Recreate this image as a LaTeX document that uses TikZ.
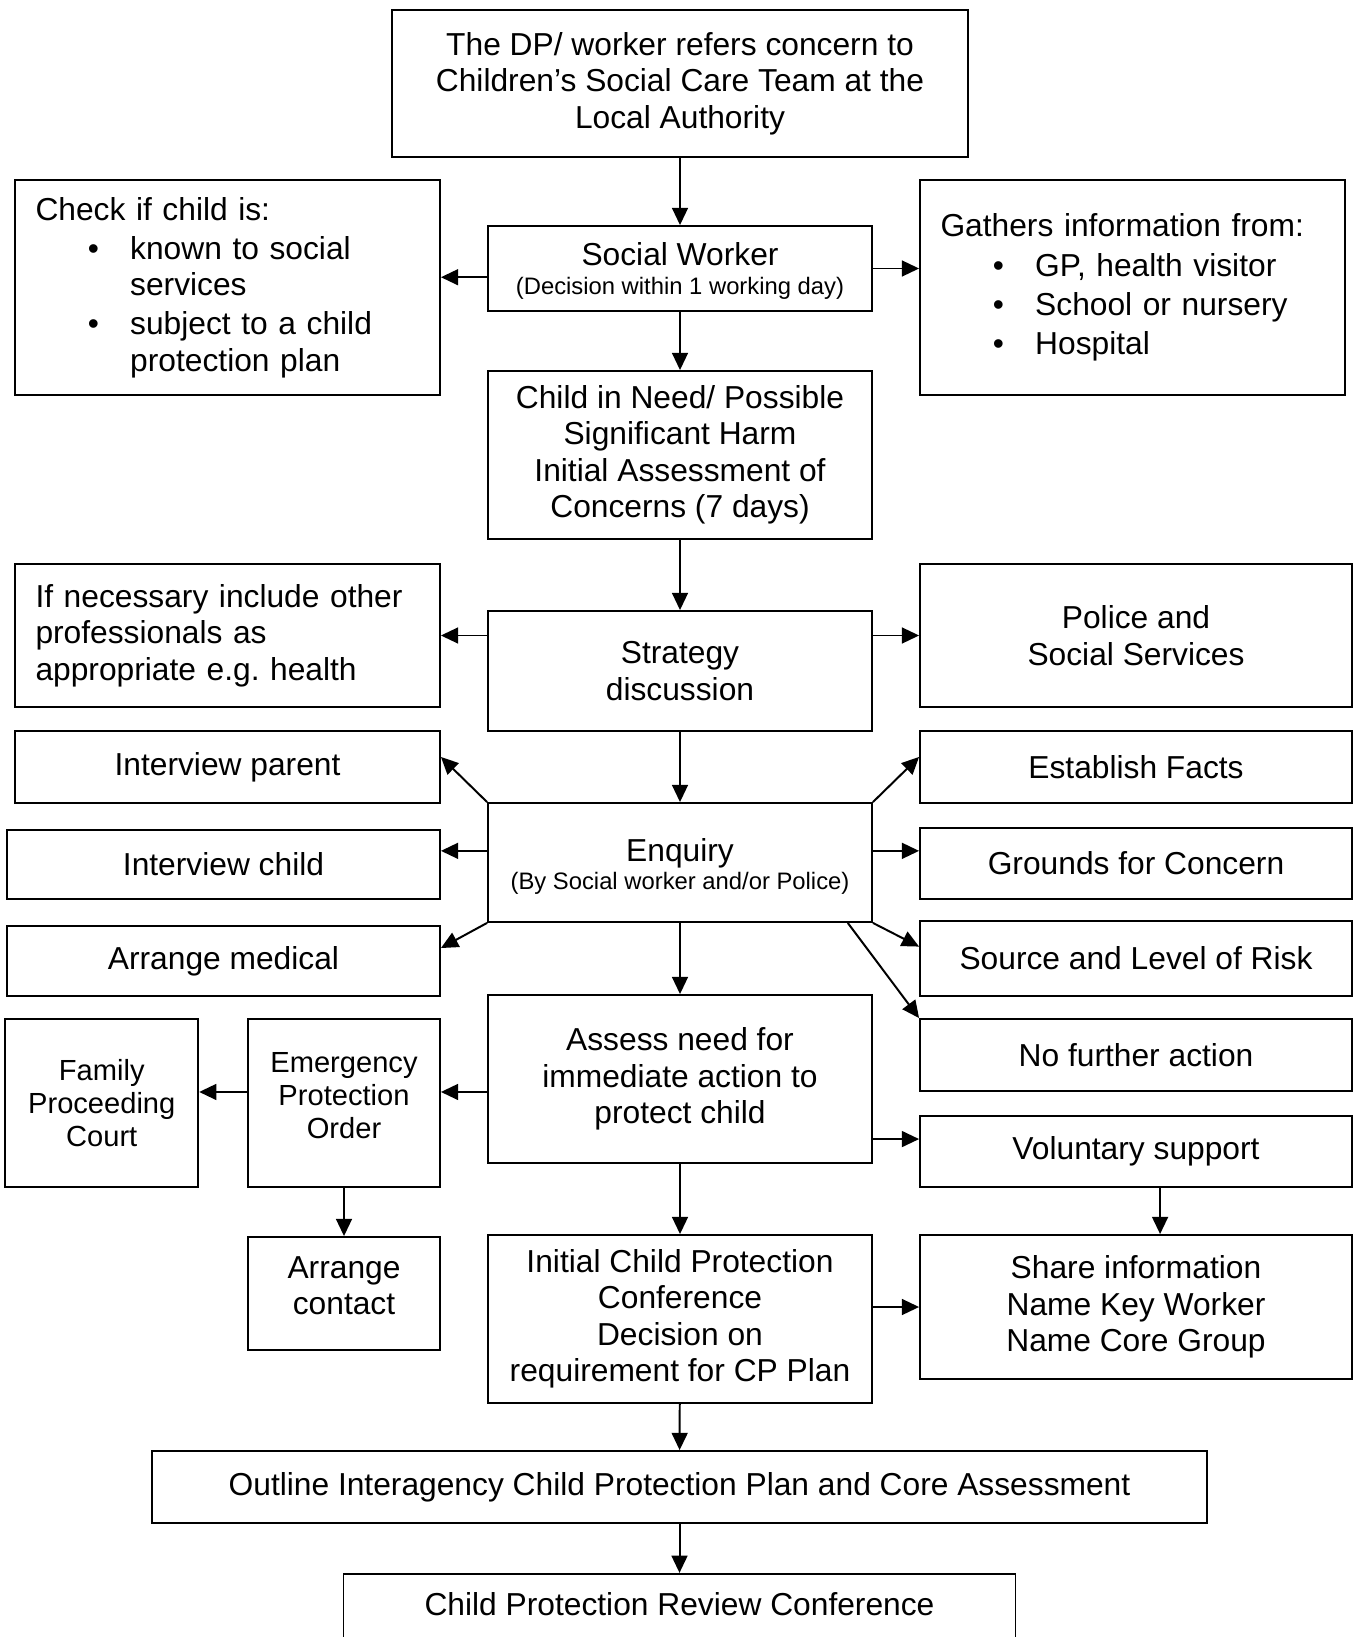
\documentclass[tikz,border=0pt]{standalone}
\usepackage{fontspec}
\setmainfont{Liberation Sans}
\usepackage{tikz}
\usetikzlibrary{positioning, arrows.meta}

\tikzset{
  box/.style={draw, line width=0.7pt, inner sep=0pt, align=center},
  sz/.style 2 args={minimum width=#1*0.378pt, minimum height=#2*0.378pt},
  lbox/.style={box, align=left, text width=#1*0.378pt},
  arr/.style={line width=0.75pt, -{Triangle[length=6.5pt, width=6pt]}},
  midtxt/.style={font=\fontsize{11}{12.6}\selectfont},
  every label/.style={align=center, inner sep=0pt},
}
\newcommand{\bitem}{\hspace*{19.8pt}\makebox[16pt][l]{\textbullet}}
\newcommand{\bcont}{\hspace*{35.8pt}}
\newcommand{\subtxt}[1]{{\fontsize{9}{10.5}\selectfont #1}}

\begin{document}
\begin{tikzpicture}[x=0.378pt, y=-0.378pt, font=\fontsize{12}{13.8}\selectfont]
    \useasboundingbox (0,0) rectangle (1355,1637);
    % Centre column
    \node (refer) [box, sz={576}{147}] at (680,83.5) {The DP/ worker refers concern to\\Children’s Social Care Team at the\\Local Authority};
    \node (sw) [box, sz={384}{85}, label={[yshift=-0.9pt]center:Social Worker\\[-3pt]\subtxt{(Decision within 1 working day)}}] at (680,268.5) {};
    \node (need) [box, sz={384}{168}] at (680,455) {Child in Need/ Possible\\Significant Harm\\Initial Assessment of\\Concerns (7 days)};
    \node (strat) [box, sz={384}{120}] at (680,671) {Strategy\\discussion};
    \node (enq) [box, sz={384}{119}, label={[yshift=-1.5pt]center:Enquiry\\[-3.3pt]\subtxt{(By Social worker and/or Police)}}] at (680,862.5) {};
    \node (assess) [box, sz={384}{168}] at (680,1079) {Assess need for\\immediate action to\\protect child};
    \node (icpc) [box, sz={384}{168}] at (680,1319) {Initial Child Protection\\Conference\\Decision on\\requirement for CP Plan};
    \node (outline) [box, sz={1055}{72}] at (679.5,1487) {Outline Interagency Child Protection Plan and Core Assessment};
    \node (review) [box, sz={672}{80}, below=18.5pt of outline, label={[yshift=3.8pt]center:Child Protection Review Conference}] {};
    % Left column
    \node (check) [lbox=384, sz={425}{215}] at (227.5,287.5) {Check if child is:\\[1pt]
        \bitem known to social\\
        \bcont services\\[1pt]
        \bitem subject to a child\\
        \bcont protection plan};
    \node (ifnec) [lbox=384, sz={425}{143}] at (227.5,635.5) {If necessary include other\\professionals as\\appropriate e.g.\ health};
    \node (parent) [box, sz={425}{72}] at (227.5,767) {Interview parent};
    \node (ichild) [box, sz={433}{69}] at (223.5,864.5) {Interview child};
    \node (medical) [box, sz={433}{70}] at (223.5,961) {Arrange medical};
    \node (epo) [box, sz={192}{168}, label={[yshift=2.8pt, midtxt]center:Emergency\\Protection\\Order}] at (344,1103) {};
    \node (family) [box, midtxt, sz={193}{168}, left=18.1pt of epo] {Family\\Proceeding\\Court};
    \node (contact) [box, sz={192}{113}, label={[yshift=3pt]center:Arrange\\contact}] at (344,1293.5) {};
    % Right column
    \node (gather) [lbox=384, sz={425}{215}] at (1132.5,287.5) {Gathers information from:\\[1pt]
        \bitem GP, health visitor\\[1pt]
        \bitem School or nursery\\[1pt]
        \bitem Hospital};
    \node (police) [box, sz={432}{143}] at (1136,635.5) {Police and\\Social Services};
    \node (facts) [box, sz={432}{72}] at (1136,767) {Establish Facts};
    \node (grounds) [box, sz={432}{71}] at (1136,863.5) {Grounds for Concern};
    \node (source) [box, sz={432}{75}] at (1136,958.5) {Source and Level of Risk};
    \node (nfa) [box, sz={432}{72}] at (1136,1055) {No further action};
    \node (vol) [box, sz={432}{71}] at (1136,1151.5) {Voluntary support};
    \node (share) [box, sz={432}{144}] at (1136,1307) {Share information\\Name Key Worker\\Name Core Group};
    % Arrow start points
    \coordinate (swl) at ([yshift=-3.3pt]sw.west);
    \coordinate (enqm) at ([yshift=4.4pt]enq.west);
    \coordinate (asl) at ([yshift=-4.9pt]assess.west);
    \coordinate (asr) at ([yshift=-22.7pt]assess.east);
    \coordinate (vold) at ([xshift=9.1pt]vol.south);
    % Downward flow
    \draw [arr] (refer) -- (sw);
    \draw [arr] (sw) -- (need);
    \draw [arr] (need) -- (strat);
    \draw [arr] (strat) -- (enq);
    \draw [arr] (enq) -- (assess);
    \draw [arr] (assess) -- (icpc);
    \draw [arr] (icpc) -- (outline);
    \draw [arr] (outline) -- (review);
    \draw [arr] (epo) -- (contact);
    \draw [arr] (vold) -- (vold |- share.north);
    % Side arrows
    \draw [arr] (swl) -- (swl -| check.east);
    \draw [arr] (sw.east) -- (sw.east -| gather.west);
    \draw [arr] (strat.west |- ifnec.east) -- (ifnec.east);
    \draw [arr] (strat.east |- police.west) -- (police.west);
    \draw [arr] (enq.north west) -- ([yshift=3.8pt]parent.east);
    \draw [arr] (enq.north east) -- ([yshift=3.8pt]facts.west);
    \draw [arr] (enqm) -- (enqm -| ichild.east);
    \draw [arr] (enqm -| enq.east) -- (enqm -| grounds.west);
    \draw [arr] (enq.south west) -- ([yshift=4.9pt]medical.east);
    \draw [arr] (enq.south east) -- ([yshift=4.5pt]source.west);
    \draw [arr] ([xshift=-9.5pt]enq.south east) -- (nfa.north west);
    \draw [arr] (asl) -- (asl -| epo.east);
    \draw [arr] (asl -| epo.west) -- (asl -| family.east);
    \draw [arr] (asr) -- (asr -| vol.west);
    \draw [arr] (icpc.east |- share.west) -- (share.west);
\end{tikzpicture}
\end{document}
